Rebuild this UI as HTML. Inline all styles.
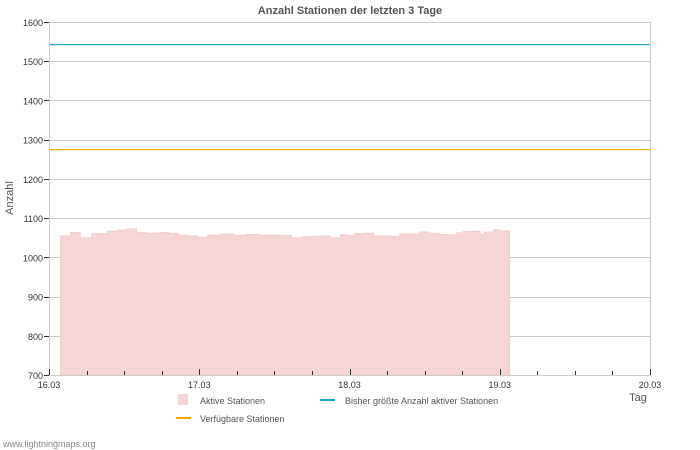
<!DOCTYPE html>
<html><head><meta charset="utf-8"><style>
body{margin:0;background:#fff;font-family:"Liberation Sans","DejaVu Sans",sans-serif;}
</style></head><body>
<svg id="c" width="700" height="450" viewBox="0 0 700 450" style="display:block">
<text x="350" y="14" text-anchor="middle" font-size="11" font-weight="bold" fill="#555">Anzahl Stationen der letzten 3 Tage</text>
<g id="grid"></g>
<g id="series"></g>
<g id="axes"></g>
<text x="13" y="198" text-anchor="middle" font-size="11" fill="#555" transform="rotate(-90 13 198)">Anzahl</text>
<text x="638" y="401" text-anchor="middle" font-size="11" fill="#555">Tag</text>
<g>
<g><rect x="178" y="394" width="10" height="11" fill="#f5d6d6"/><text x="200" y="404" font-size="9" fill="#555">Aktive Stationen</text></g>
<g><rect x="320" y="399" width="15" height="2" fill="#1ba8c9"/><text x="345" y="404" font-size="9" fill="#555">Bisher größte Anzahl aktiver Stationen</text></g>
<g><rect x="176" y="417" width="15" height="2" fill="#f5a800"/><text x="200" y="422" font-size="9" fill="#555">Verfügbare Stationen</text></g>
</g>
<text x="3" y="447" font-size="9" fill="#888">www.lightningmaps.org</text>
</svg>
<script>
const hours=[1.8,3.4,5.0,6.8,9.3,10.9,12.4,14.0,15.5,17.6,19.1,20.7,22.2,23.8,25.3,27.4,29.5,31.5,33.6,35.7,37.2,38.8,40.3,41.9,43.4,45.0,46.5,47.5,48.8,50.3,51.9,53.4,54.5,56.0,57.9,59.2,60.7,62.3,63.8,65.1,66.1,67.4,68.9,69.5,71.0,72.0];
const values=[1055,1064,1050,1061,1067,1070,1073,1064,1062,1064,1061,1057,1055,1052,1057,1060,1057,1059,1057,1057,1056,1050,1053,1054,1055,1050,1058,1056,1061,1062,1055,1055,1054,1060,1060,1065,1062,1059,1058,1063,1066,1067,1059,1065,1071,1068];
const maxActive=1545;
const available=1275;
const yTicks=[700,800,900,1000,1100,1200,1300,1400,1500,1600];
const xTicks=["16.03","17.03","18.03","19.03","20.03"];
const ns="http://www.w3.org/2000/svg";
const X0=49,X1=650,Y0=375,Y1=22;
const xs=h=>X0+h/96*(X1-X0);
const ys=v=>Y0-(v-700)/900*(Y0-Y1);
const snap=y=>Math.round(y)+0.5;
function mk(t,a,p){const e=document.createElementNS(ns,t);for(const k in a)e.setAttribute(k,a[k]);p.appendChild(e);return e;}
const grid=document.getElementById('grid'),axes=document.getElementById('axes'),ser=document.getElementById('series');
yTicks.forEach(v=>{
 const l=mk('line',{x1:X0,x2:X1,y1:snap(ys(v)),y2:snap(ys(v)),stroke:'#ccc','stroke-width':1},grid);
 
 
 const tk=mk('line',{x1:X0-5,x2:X0,y1:snap(ys(v)),y2:snap(ys(v)),stroke:'#333'},axes);
 
 
 const t=mk('text',{x:X0-6,y:ys(v)+4,'text-anchor':'end','font-size':9,fill:'#333'},axes);
 t.textContent=v;
 
 
});
let d='M'+xs(hours[0])+','+ys(700);
for(let i=0;i<hours.length;i++){const x2=i<hours.length-1?hours[i+1]:hours[i]+1.6;d+=' L'+xs(hours[i])+','+ys(values[i])+' L'+xs(x2)+','+ys(values[i]);}
d+=' L'+xs(hours[hours.length-1]+1.6)+','+ys(700)+' Z';
const a=mk('path',{d:d,fill:'#f5d6d6',stroke:'#efc4c4','stroke-width':0.5},ser);


const m=mk('rect',{x:X0,width:X1-X0,y:Math.round(ys(maxActive)),height:1.2,fill:'#1ba8c9'},ser);


const av=mk('rect',{x:X0,width:X1-X0,y:Math.round(ys(available)),height:1.2,fill:'#f5a800'},ser);


const f=mk('rect',{x:X0+0.5,y:Y1+0.5,width:X1-X0,height:Y0-Y1,fill:'none',stroke:'#ccc'},axes);


for(let h=0;h<=96;h+=6){
 const big=h%24===0;
 const tk=mk('line',{x1:Math.round(xs(h))+0.5,x2:Math.round(xs(h))+0.5,y1:Y0-(big?6:4),y2:Y0,stroke:'#333'},axes);
 
 
}
xTicks.forEach((s,i)=>{
 const t=mk('text',{x:xs(i*24),y:Y0+13,'text-anchor':'middle','font-size':9,fill:'#333'},axes);
 t.textContent=s;
 
 
});
</script>
</body></html>
